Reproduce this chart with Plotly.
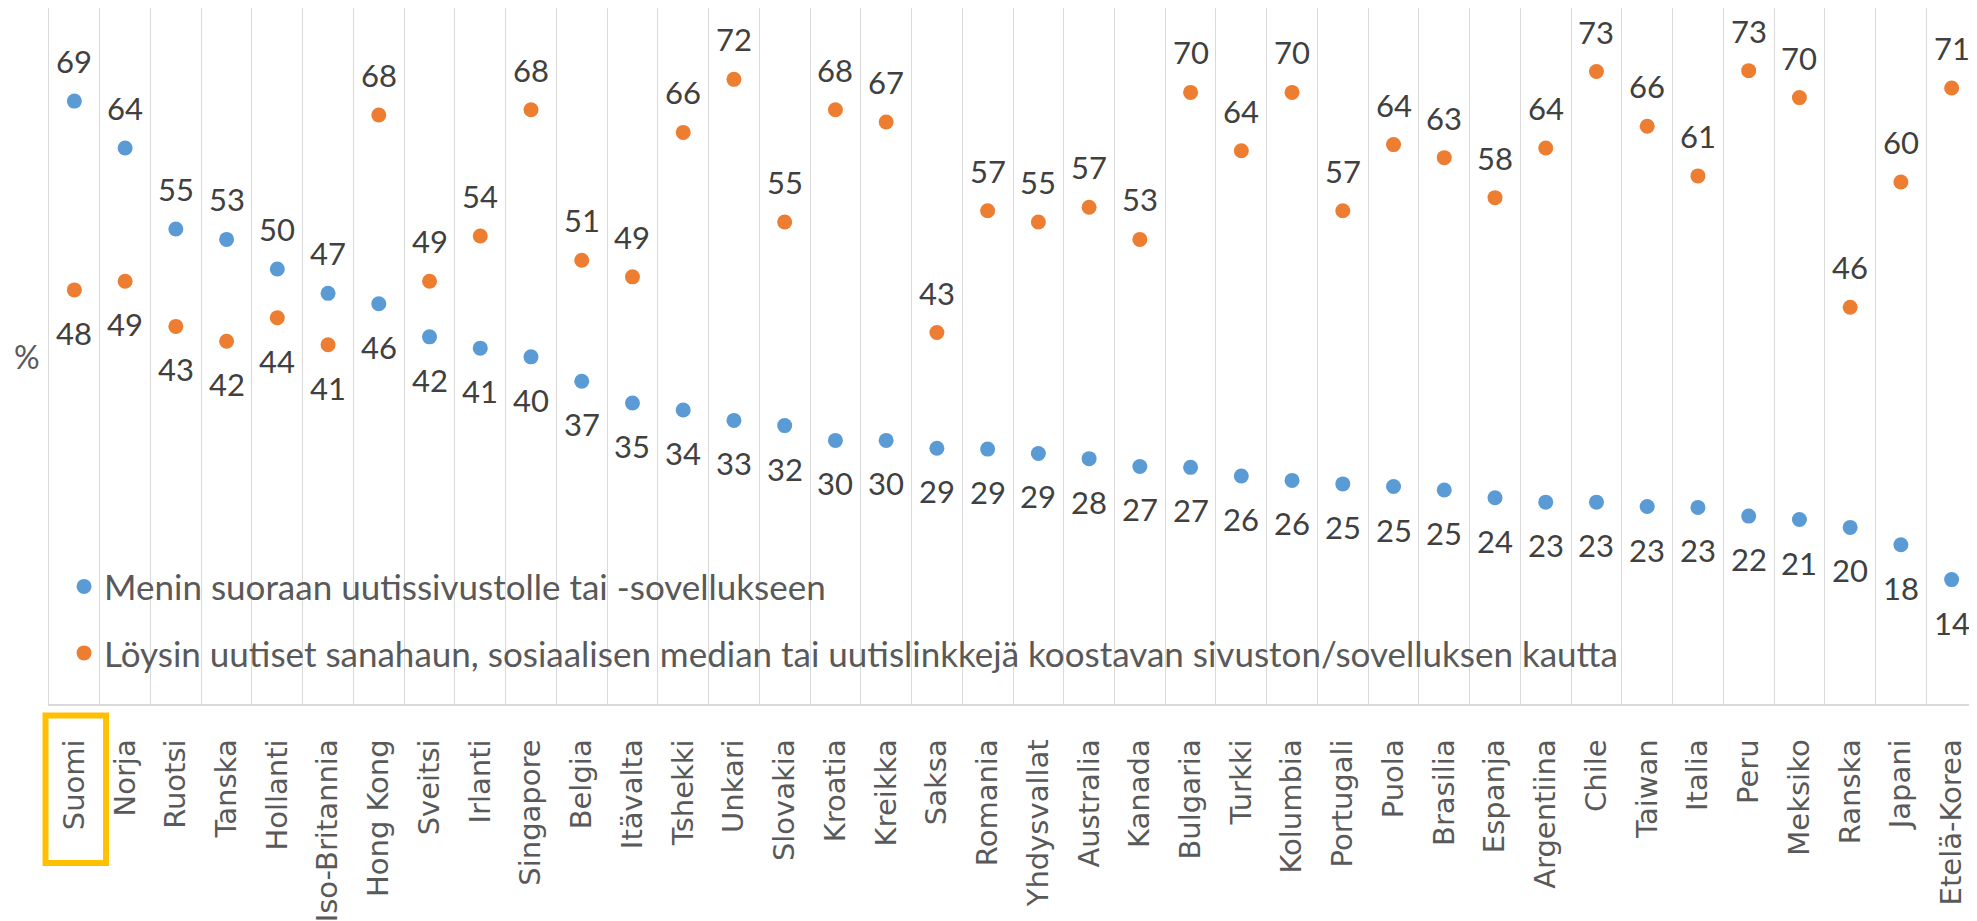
import plotly.graph_objects as go

countries = ["Suomi", "Norja", "Ruotsi", "Tanska", "Hollanti", "Iso-Britannia", "Hong Kong",
             "Sveitsi", "Irlanti", "Singapore", "Belgia", "Itävalta", "Tshekki", "Unkari",
             "Slovakia", "Kroatia", "Kreikka", "Saksa", "Romania", "Yhdysvallat", "Australia",
             "Kanada", "Bulgaria", "Turkki", "Kolumbia", "Portugali", "Puola", "Brasilia",
             "Espanja", "Argentiina", "Chile", "Taiwan", "Italia", "Peru", "Meksiko", "Ranska",
             "Japani", "Etelä-Korea"]

direct = [69.3, 63.9, 54.6, 53.4, 50.0, 47.2, 46.0, 42.2, 40.9, 39.9, 37.1, 34.6, 33.8, 32.6,
          32.0, 30.3, 30.3, 29.4, 29.3, 28.8, 28.2, 27.3, 27.2, 26.2, 25.7, 25.3, 25.0, 24.6,
          23.7, 23.2, 23.2, 22.7, 22.6, 21.6, 21.2, 20.3, 18.3, 14.3]

side_door = [47.6, 48.6, 43.4, 41.7, 44.4, 41.3, 67.7, 48.6, 53.8, 68.3, 51.0, 49.1, 65.7, 71.8,
             55.4, 68.3, 66.9, 42.7, 56.7, 55.4, 57.1, 53.4, 70.3, 63.6, 70.3, 56.7, 64.3, 62.8,
             58.2, 63.9, 72.7, 66.4, 60.7, 72.8, 69.7, 45.6, 60.0, 70.8]

series_names = ["Menin suoraan uutissivustolle tai -sovellukseen",
                "Löysin uutiset sanahaun, sosiaalisen median tai uutislinkkejä koostavan sivuston/sovelluksen kautta"]
colors = ["#5B9BD5", "#ED7D31"]

LABEL_FONT = dict(family="Lato", size=31, color="#404040")

fig = go.Figure()
for i, (name, vals) in enumerate([(series_names[0], direct), (series_names[1], side_door)]):
    fig.add_trace(go.Scatter(
        x=countries, y=vals, mode="markers", name=name,
        marker=dict(size=15, color=colors[i]),
        legendgroup=f"g{i}",
        hoverinfo="x+y",
    ))

annotations = []
for c, a, b in zip(countries, direct, side_door):
    for v, other in ((a, b), (b, a)):
        up = v >= other
        annotations.append(dict(
            x=c, y=v, xref="x", yref="y", text=f"{round(v)}", showarrow=False,
            yshift=40 if up else -43, yanchor="middle", xanchor="center",
            font=LABEL_FONT,
        ))

annotations.append(dict(
    x=-0.0112, y=0.4986, xref="paper", yref="paper", text="%", showarrow=False,
    xanchor="center", yanchor="middle",
    font=dict(family="Lato", size=32, color="#595959"),
))

fig.update_layout(
    width=1969, height=913,
    margin=dict(l=41, r=0, t=0, b=217, pad=0),
    paper_bgcolor="white", plot_bgcolor="white",
    showlegend=True,
    legend=dict(
        x=0.0078, y=0.211, xanchor="left", yanchor="top",
        bgcolor="rgba(0,0,0,0)",
        font=dict(family="Lato", size=35, color="#595959"),
        traceorder="grouped", tracegroupgap=18, itemwidth=30,
    ),
    annotations=annotations,
    shapes=[dict(
        type="rect", xref="paper", yref="paper",
        x0=-0.0018, x1=0.0296, y0=-0.0165, y1=-0.2284,
        line=dict(color="#FFC000", width=6), fillcolor="rgba(0,0,0,0)",
    )],
    xaxis=dict(
        type="category", tickson="boundaries", showgrid=True,
        gridcolor="#d9d9d9", gridwidth=1.3,
        showline=True, linecolor="#d9d9d9", linewidth=1.5,
        ticks="", tickangle=-90, ticklabelstandoff=22,
        tickfont=dict(family="DejaVu Sans", size=29, color="#595959"),
        range=[-0.5, len(countries) - 0.5],
    ),
    yaxis=dict(
        range=[0, 80], showgrid=False, zeroline=False, showticklabels=False,
        showline=True, linecolor="#d9d9d9", linewidth=1.3, ticks="",
    ),
)

fig.write_html("out.html")
